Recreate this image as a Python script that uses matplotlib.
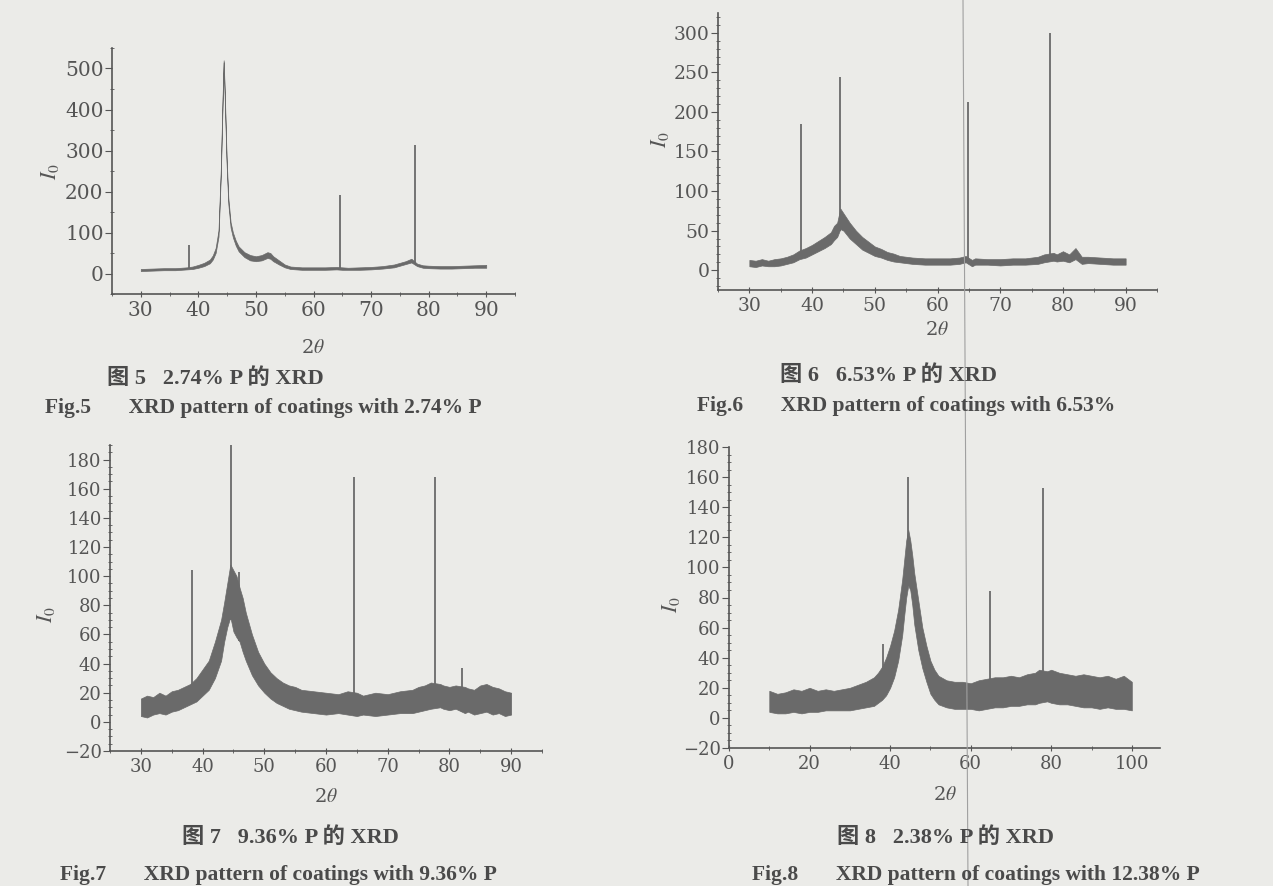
import numpy as np
import matplotlib
matplotlib.use('Agg')
import matplotlib.pyplot as plt
from matplotlib.lines import Line2D
from matplotlib.ticker import MultipleLocator

plt.rcParams['mathtext.fontset'] = 'stix'

# Fig.5 - 2.74% P  (noise band lower / upper edge, plus sharp peaks)
x1 = [30, 32, 34, 36, 37, 38, 39, 40, 41, 42,
      42.5, 43, 43.5, 43.9, 44.2, 44.4, 44.6, 44.9, 45.2, 45.6,
      46.0, 46.5, 47, 48, 49, 50, 51, 52, 52.5, 53,
      54, 55, 56, 58, 60, 62, 64, 65, 66, 68,
      70, 72, 74, 75, 76, 77, 78, 79, 80, 82,
      84, 86, 88, 90]
lo1 = [6, 7, 8, 8, 9, 10, 11, 14, 18, 25,
       34, 50, 90, 240, 410, 515, 420, 270, 170, 112,
       88, 68, 54, 40, 32, 30, 32, 38, 36, 30,
       22, 15, 11, 9, 9, 9, 10, 9, 9, 9,
       10, 12, 15, 19, 23, 27, 18, 14, 13, 12,
       12, 13, 14, 14]
hi1 = [11, 12, 13, 13, 14, 15, 17, 21, 26, 34,
       44, 62, 105, 255, 425, 520, 435, 285, 185, 125,
       100, 80, 66, 52, 45, 42, 45, 52, 50, 42,
       32, 22, 17, 15, 15, 15, 16, 15, 14, 15,
       16, 18, 22, 26, 30, 36, 24, 20, 19, 18,
       18, 19, 20, 21]
pk1_x = [38.3, 64.55, 77.55]
pk1_y = [70, 192, 313]

# Fig.6 - 6.53% P
x2 = [30, 31, 32, 33, 34, 35, 36, 37, 38, 39,
      40, 41, 42, 43, 43.5, 44, 44.5, 45, 45.5, 46,
      47, 48, 49, 50, 51, 52, 53, 54, 55, 56,
      58, 60, 62, 63.5, 64.5, 65.5, 66, 68, 70, 72,
      74, 76, 77, 78.5, 79, 80, 81, 82, 83, 84,
      86, 88, 90]
lo2 = [5, 4, 6, 5, 5, 6, 8, 10, 14, 16,
       20, 24, 28, 33, 38, 42, 52, 50, 45, 40,
       33, 26, 22, 18, 16, 13, 11, 10, 9, 8,
       7, 7, 7, 8, 10, 5, 7, 7, 6, 7,
       7, 8, 10, 12, 11, 12, 10, 14, 8, 9,
       8, 7, 7]
hi2 = [13, 12, 14, 12, 14, 15, 17, 20, 25, 28,
       32, 37, 42, 48, 56, 60, 78, 72, 66, 60,
       50, 42, 36, 30, 27, 23, 21, 18, 17, 16,
       15, 15, 15, 16, 18, 13, 15, 14, 14, 15,
       15, 17, 20, 22, 20, 24, 20, 28, 17, 17,
       16, 15, 15]
pk2_x = [38.3, 44.4, 64.8, 77.9]
pk2_y = [185, 244, 212, 300]

# Fig.7 - 9.36% P
x3 = [30, 31, 32, 33, 34, 35, 36, 37, 38, 39,
      40, 41, 42, 43, 43.5, 44, 44.5, 45, 45.5, 46,
      46.5, 47, 48, 49, 50, 51, 52, 53, 54, 55,
      56, 58, 60, 62, 63.5, 65, 66, 68, 70, 72,
      74, 75, 76, 77, 78.5, 79, 80, 81, 82.5, 83,
      84, 85, 86, 87, 88, 89, 90]
lo3 = [4, 3, 5, 6, 5, 7, 8, 10, 12, 14,
       18, 22, 30, 42, 55, 65, 72, 62, 58, 55,
       48, 42, 32, 25, 20, 16, 13, 11, 9, 8,
       7, 6, 5, 6, 5, 4, 5, 4, 5, 6,
       6, 7, 8, 9, 10, 9, 8, 9, 6, 7,
       5, 6, 7, 5, 6, 4, 5]
hi3 = [16, 18, 17, 20, 18, 21, 22, 24, 26, 30,
       36, 42, 55, 70, 82, 95, 108, 104, 100, 92,
       85, 75, 60, 48, 40, 34, 30, 27, 25, 24,
       22, 21, 20, 19, 21, 20, 18, 20, 19, 21,
       22, 24, 25, 27, 26, 25, 24, 25, 24, 23,
       22, 25, 26, 24, 23, 21, 20]
pk3_x = [38.3, 44.6, 45.9, 64.5, 77.7, 82.1]
pk3_y = [104, 190, 103, 168, 168, 37]

# Fig.8 - 12.38% P
x4 = [10, 12, 14, 16, 18, 20, 22, 24, 26, 28,
      30, 32, 34, 36, 37, 38, 39, 40, 41, 42,
      43, 43.5, 44, 44.5, 45, 45.5, 46, 47, 48, 49,
      50, 51, 52, 54, 56, 58, 60, 62, 64, 66,
      68, 70, 72, 74, 76, 77, 79, 80, 82, 84,
      86, 88, 90, 92, 94, 96, 98, 100]
lo4 = [4, 3, 3, 4, 3, 4, 4, 5, 5, 5,
       5, 6, 7, 8, 10, 12, 15, 20, 27, 38,
       55, 68, 80, 88, 85, 75, 62, 45, 33, 24,
       16, 12, 9, 7, 6, 6, 6, 5, 6, 7,
       7, 8, 8, 9, 9, 10, 11, 10, 9, 9,
       8, 7, 7, 6, 7, 6, 6, 5]
hi4 = [18, 16, 17, 19, 18, 20, 18, 19, 18, 19,
       20, 22, 24, 27, 30, 34, 40, 48, 58, 72,
       92, 105, 118, 125, 118, 108, 96, 78, 60, 48,
       38, 32, 28, 25, 24, 24, 23, 25, 26, 27,
       27, 28, 27, 29, 30, 32, 31, 32, 30, 29,
       28, 29, 28, 27, 28, 26, 28, 24]
pk4_x = [38.2, 44.5, 64.9, 77.9]
pk4_y = [49, 160, 84, 153]

cap_cn = ['图 5   2.74% P 的 XRD', '图 6   6.53% P 的 XRD',
          '图 7   9.36% P 的 XRD', '图 8   2.38% P 的 XRD']
cap_en = ['Fig.5       XRD pattern of coatings with 2.74% P',
          'Fig.6       XRD pattern of coatings with 6.53%',
          'Fig.7       XRD pattern of coatings with 9.36% P',
          'Fig.8       XRD pattern of coatings with 12.38% P']

W, H = 1273, 886
BG = '#ebebe8'
INK = '#555555'
LINE = '#6a6a6a'

fig = plt.figure(figsize=(W / 100, H / 100), dpi=100, facecolor=BG)


def px_axes(l, t, r, b):
    return fig.add_axes([l / W, 1 - b / H, (r - l) / W, (b - t) / H])


def draw(ax, x, lo, hi, px, py, xlim, ylim, xmaj, xmin, ymaj, ymin, fs):
    ax.set_facecolor('none')
    ax.fill_between(x, lo, hi, color=LINE, lw=0.5)
    base = np.interp(px, x, lo)
    ax.vlines(px, base, py, color=LINE, lw=1.3)
    ax.set_xlim(*xlim)
    ax.set_ylim(*ylim)
    for s in ['top', 'right']:
        ax.spines[s].set_visible(False)
    for s in ['left', 'bottom']:
        ax.spines[s].set_color(INK)
        ax.spines[s].set_linewidth(1.2)
    ax.xaxis.set_major_locator(MultipleLocator(xmaj))
    ax.xaxis.set_minor_locator(MultipleLocator(xmin))
    ax.yaxis.set_major_locator(MultipleLocator(ymaj))
    ax.yaxis.set_minor_locator(MultipleLocator(ymin))
    ax.tick_params(axis='both', which='both', colors=INK, labelcolor=INK,
                   labelsize=fs)
    ax.tick_params(axis='y', which='major', direction='out', length=5, pad=1)
    ax.tick_params(axis='y', which='minor', direction='inout', length=3)
    ax.tick_params(axis='x', which='major', direction='inout', length=4, pad=3)
    ax.tick_params(axis='x', which='minor', direction='inout', length=3)
    for lab in ax.get_xticklabels() + ax.get_yticklabels():
        lab.set_family('DejaVu Serif')


ax1 = px_axes(112, 48, 515, 294)
draw(ax1, x1, lo1, hi1, pk1_x, pk1_y, (25, 95), (-50, 550), 10, 5, 100, 50, 14.5)
ax1.set_xticks(range(30, 91, 10))
ax1.set_yticks(range(0, 501, 100))

ax2 = px_axes(718, 13, 1157, 290)
draw(ax2, x2, lo2, hi2, pk2_x, pk2_y, (25, 95), (-25, 325), 10, 5, 50, 10, 13.5)
ax2.set_xticks(range(30, 91, 10))
ax2.set_yticks(range(0, 301, 50))

ax3 = px_axes(110, 445, 542, 751)
draw(ax3, x3, lo3, hi3, pk3_x, pk3_y, (25, 95), (-20, 190), 10, 5, 20, 5, 13)
ax3.set_xticks(range(30, 91, 10))
ax3.set_yticks(range(-20, 181, 20))

ax4 = px_axes(729, 447, 1160, 748)
draw(ax4, x4, lo4, hi4, pk4_x, pk4_y, (0, 107), (-20, 180), 20, 10, 20, 5, 13)
ax4.set_xticks(range(0, 101, 20))
ax4.set_yticks(range(-20, 181, 20))

for ax in [ax1, ax2, ax3, ax4]:
    ax.set_yticklabels([str(int(v)).replace('-', '\u2212') for v in ax.get_yticks()],
                       family='DejaVu Serif')


def ftext(x, y, s, **kw):
    fig.text(x / W, 1 - y / H, s, **kw)


# axis labels
for (xx, yy) in [(313, 348), (937, 330), (326, 797), (945, 795)]:
    ftext(xx, yy, r'2$\theta$', fontsize=14, color=INK, ha='center', va='center',
          family='DejaVu Serif')
for (xx, yy) in [(50, 172), (660, 140), (46, 615), (671, 605)]:
    ftext(xx, yy, r'$I_0$', fontsize=16, color=INK, ha='center', va='center',
          rotation=90)

# captions
cap_font = ['Liberation Serif', 'Noto Sans CJK SC']
for s, (xx, yy) in zip(cap_cn, [(107, 379), (780, 376), (182, 838), (837, 838)]):
    ftext(xx, yy, s, fontsize=16, color='#4a4a4a', ha='left', va='center',
          family=cap_font, weight='bold')
for s, (xx, yy) in zip(cap_en, [(45, 408), (697, 406), (60, 875), (752, 875)]):
    ftext(xx, yy, s, fontsize=15.5, color='#4a4a4a', ha='left', va='center',
          family=cap_font, weight='bold')

# fold line of the scanned page
fig.add_artist(Line2D([963 / W, 968 / W], [1, 0], transform=fig.transFigure,
                      color='#a0a0a0', lw=0.8))

fig.savefig('out.png', dpi=100, facecolor=BG)
